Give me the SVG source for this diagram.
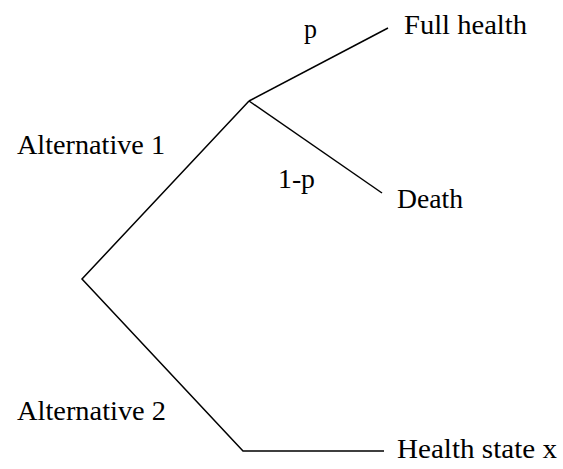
<svg xmlns="http://www.w3.org/2000/svg" width="563" height="469" viewBox="0 0 563 469">
<style>
.t{font-family:"Liberation Serif","Times New Roman",serif;font-size:28px;fill:#000}
.c{stroke:#000;stroke-width:1.5;fill:none}
</style>
<rect width="563" height="469" fill="#fff"/>
<g id="connectors">
<polyline class="c" points="249,101 82,279 243,451 384,451"/>
<line class="c" x1="249" y1="101" x2="388" y2="28"/>
<line class="c" x1="249" y1="101" x2="382" y2="193"/>
</g>
<g id="alt1"><text class="t" x="17" y="154" textLength="148" lengthAdjust="spacingAndGlyphs">Alternative 1</text></g>
<g id="alt2"><text class="t" x="17" y="420" textLength="149" lengthAdjust="spacingAndGlyphs">Alternative 2</text></g>
<g id="p"><text class="t" x="304" y="38" textLength="13" lengthAdjust="spacingAndGlyphs">p</text></g>
<g id="q"><text class="t" x="278" y="188" textLength="37" lengthAdjust="spacingAndGlyphs">1-p</text></g>
<g id="full"><text class="t" x="404" y="34" textLength="123" lengthAdjust="spacingAndGlyphs">Full health</text></g>
<g id="death"><text class="t" x="397" y="208" textLength="66" lengthAdjust="spacingAndGlyphs">Death</text></g>
<g id="hsx"><text class="t" x="397" y="458" textLength="160" lengthAdjust="spacingAndGlyphs">Health state x</text></g>
</svg>
